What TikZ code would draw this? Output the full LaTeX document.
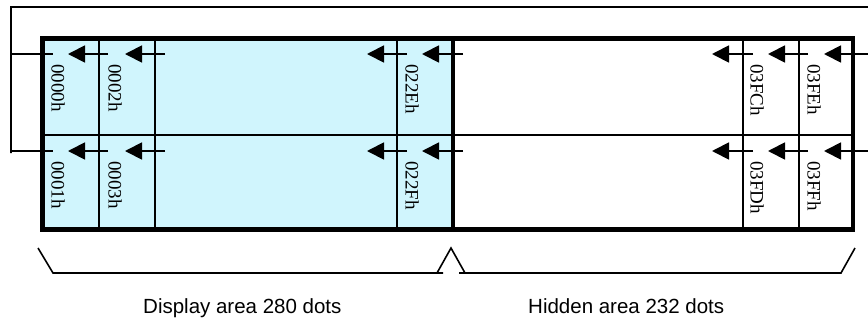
\documentclass[tikz,border=0pt]{standalone}
\usepackage{fontspec}
\setmainfont{Liberation Serif}
\newfontfamily\labelsans{Liberation Sans}
\usetikzlibrary{arrows.meta}
\definecolor{dispcyan}{RGB}{208,245,253}
\tikzset{
  thinln/.style={line width=1.8pt, black},
  thickln/.style={line width=4.4pt, black},
  feed/.style={thinln, -{Triangle[length=17pt,width=17pt]}},
  addr/.style={rotate=-90, anchor=west, inner sep=0pt, font=\fontsize{19}{19}\selectfont},
  captiontxt/.style={anchor=base west, inner sep=0pt, font=\labelsans\fontsize{20.5}{20.5}\selectfont},
  bracel/.style={line width=1.6pt, black}
}
\begin{document}
\begin{tikzpicture}[x=1pt,y=-1pt]
\useasboundingbox (0,0) rectangle (868,322);
% display area fill
\fill[dispcyan] (42.5,38.5) rectangle (453,229.5);
% grid lines
\draw[thinln] (42.5,135) -- (853,135);
\foreach \xx in {99,155,397,743,799} \draw[thinln] (\xx,38.5) -- (\xx,229.5);
% feedback loop
\coordinate (loopR) at (868,7);
\coordinate (loopL) at (11,7);
\coordinate (loopA) at (53,54);
\coordinate (loopB) at (53,151);
\draw[thinln] (loopR) -- (loopL) -- (11,153) -- (11,151) -- (loopB);
\draw[thinln] (11,54) -- (loopA);
% arrows, top row y=54, bottom row y=151
\foreach \tip/\tail [count=\i] in {68/108,125/165,367/407,422/463,712/753,768/808,824/868}{
  \coordinate (ta\i) at (\tip,54);
  \coordinate (sa\i) at (\tail,54);
  \coordinate (tb\i) at (\tip,151);
  \coordinate (sb\i) at (\tail,151);
  \draw[feed] (sa\i) -- (ta\i);
  \draw[feed] (sb\i) -- (tb\i);
}
% outer frame and divider
\draw[thickln] (42.5,38.5) rectangle (853,229.5);
\draw[thickln] (453,38.5) -- (453,229.5);
% address labels
\node[addr] (a0000) at (58,64) {0000h};
\node[addr] (a0002) at (115,64) {0002h};
\node[addr] (a022E) at (412,64) {022Eh};
\node[addr] (a03FC) at (757,64) {03FCh};
\node[addr] (a03FE) at (814,64) {03FEh};
\node[addr] (a0001) at (58,161) {0001h};
\node[addr] (a0003) at (115,161) {0003h};
\node[addr] (a022F) at (412,161) {022Fh};
\node[addr] (a03FD) at (757,161) {03FDh};
\node[addr] (a03FF) at (814,161) {03FFh};
% braces
\draw[bracel] (38,248) -- (53,273) -- (443,273);
\draw[bracel] (437,273) -- (451,248) -- (465,273);
\draw[bracel] (459,273) -- (841,273) -- (855,248);
% captions
\node[captiontxt] (disp) at (143,313) {Display area 280 dots};
\node[captiontxt] (hidd) at (528,313) {Hidden area 232 dots};
\end{tikzpicture}
\end{document}
